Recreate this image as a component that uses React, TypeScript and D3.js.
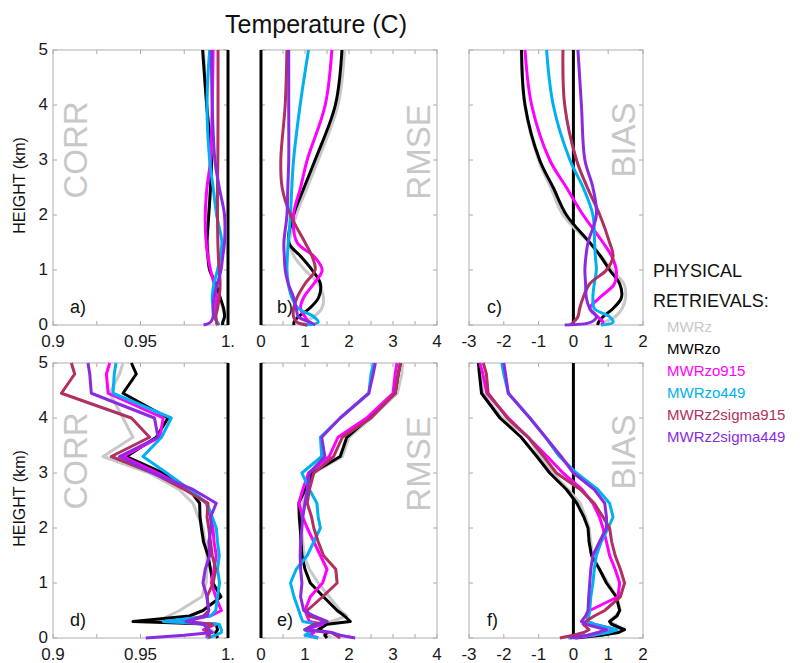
import * as d3 from "d3";

const seriesNames = ["MWRz", "MWRzo", "MWRzo915", "MWRzo449", "MWRz2sigma915", "MWRz2sigma449"];
const seriesColors = ["#c8c8c8", "#000000", "#ff00ff", "#00b0f0", "#b03060", "#8a2be2"];

// heights (km) for the smooth profiles (top row) and the raw profiles (bottom row)
const heightsSmooth = [5, 4, 3, 2.5, 2, 1.5, 1.25, 1, 0.75, 0.5, 0.3, 0.15, 0.05, 0];
const heightsRaw = [5, 4.8, 4.45, 4.0, 3.65, 3.3, 3.0, 2.7, 2.45, 2.2, 2.0, 1.75, 1.5, 1.25, 1.0, 0.75, 0.5, 0.4, 0.3, 0.25, 0.15, 0.1, 0.05, 0];

// series order follows seriesNames
const corrTop = [
  [0.986, 0.988, 0.9905, 0.990, 0.989, 0.9885, 0.989, 0.990, 0.993, 0.9955, 0.997, 0.998, 0.997, 0.997],
  [0.9855, 0.9878, 0.9905, 0.990, 0.989, 0.988, 0.9885, 0.9895, 0.993, 0.9955, 0.9975, 0.998, 0.997, 0.997],
  [0.9915, 0.991, 0.990, 0.988, 0.987, 0.9875, 0.9885, 0.990, 0.992, 0.9935, 0.993, 0.993, 0.9935, 0.994],
  [0.9895, 0.988, 0.9895, 0.9915, 0.9935, 0.9965, 0.9955, 0.994, 0.992, 0.991, 0.9915, 0.992, 0.994, 0.995],
  [0.9943, 0.9943, 0.9942, 0.994, 0.994, 0.9942, 0.9945, 0.995, 0.9955, 0.995, 0.994, 0.993, 0.9935, 0.994],
  [0.9905, 0.991, 0.9925, 0.995, 0.998, 0.998, 0.997, 0.996, 0.994, 0.992, 0.9915, 0.9915, 0.990, 0.986],
];
const rmseTop = [
  [1.9, 1.75, 1.3, 1.05, 0.8, 0.65, 0.75, 1.0, 1.3, 1.42, 1.38, 1.2, 1.0, 0.95],
  [1.84, 1.69, 1.23, 0.98, 0.74, 0.63, 0.9, 1.16, 1.35, 1.31, 1.1, 0.85, 0.75, 0.75],
  [1.61, 1.46, 1.05, 0.9, 0.74, 0.82, 1.2, 1.39, 1.2, 0.97, 0.9, 1.0, 1.08, 1.1],
  [1.08, 0.89, 0.74, 0.7, 0.67, 0.62, 0.6, 0.59, 0.62, 0.7, 0.85, 1.2, 1.3, 1.0],
  [0.59, 0.55, 0.45, 0.48, 0.67, 1.0, 1.16, 1.23, 1.0, 0.82, 0.74, 0.74, 0.82, 1.05],
  [0.63, 0.63, 0.63, 0.61, 0.59, 0.52, 0.53, 0.55, 0.62, 0.74, 0.8, 0.85, 1.12, 1.23],
];
const biasTop = [
  [-1.5, -1.4, -1.0, -0.65, -0.3, 0.45, 0.8, 1.1, 1.45, 1.5, 1.4, 1.2, 0.9, 0.8],
  [-1.49, -1.39, -0.97, -0.58, -0.2, 0.47, 0.78, 1.04, 1.33, 1.38, 1.14, 0.85, 0.72, 0.7],
  [-1.39, -1.2, -0.68, -0.2, 0.28, 0.85, 1.1, 1.23, 1.18, 0.76, 0.47, 0.7, 0.85, 0.8],
  [-0.77, -0.58, -0.1, 0.28, 0.56, 0.61, 0.63, 0.66, 0.6, 0.56, 0.6, 1.04, 1.14, 0.8],
  [-0.3, -0.25, 0.09, 0.4, 0.76, 1.04, 1.14, 0.95, 0.47, 0.28, 0.18, 0.13, 0.0, -0.1],
  [0.13, 0.23, 0.33, 0.56, 0.66, 0.42, 0.36, 0.33, 0.35, 0.37, 0.47, 0.66, 0.5, -0.25],
];

const corrBottom = [
  [0.940, 0.938, 0.9324, 0.940, 0.9457, 0.9286, 0.955, 0.972, 0.980, 0.983, 0.9857, 0.987, 0.988, 0.988, 0.9875, 0.985, 0.9724, 0.966, 0.959, 0.985, 0.990, 0.993, 0.992, 0.994],
  [0.9448, 0.9476, 0.940, 0.9657, 0.959, 0.942, 0.963, 0.978, 0.9838, 0.984, 0.9848, 0.986, 0.9886, 0.990, 0.9914, 0.996, 0.9857, 0.978, 0.9457, 0.9933, 0.994, 0.993, 0.9935, 0.994],
  [0.9324, 0.9305, 0.9315, 0.963, 0.961, 0.940, 0.960, 0.978, 0.9876, 0.990, 0.9914, 0.992, 0.9933, 0.992, 0.9905, 0.993, 0.9962, 0.990, 0.9648, 0.993, 0.986, 0.990, 0.988, 0.988],
  [0.936, 0.935, 0.9343, 0.9676, 0.962, 0.9514, 0.965, 0.978, 0.988, 0.991, 0.9933, 0.994, 0.995, 0.994, 0.9952, 0.994, 0.993, 0.990, 0.963, 0.995, 0.9962, 0.9962, 0.993, 0.988],
  [0.9105, 0.9124, 0.9048, 0.9448, 0.9552, 0.9333, 0.957, 0.975, 0.9886, 0.988, 0.989, 0.990, 0.991, 0.993, 0.9915, 0.988, 0.989, 0.986, 0.9762, 0.991, 0.987, 0.990, 0.989, 0.990],
  [0.920, 0.921, 0.9219, 0.958, 0.960, 0.938, 0.957, 0.980, 0.9933, 0.990, 0.9905, 0.989, 0.9895, 0.987, 0.9857, 0.988, 0.989, 0.988, 0.976, 0.986, 0.989, 0.991, 0.975, 0.953],
];
const rmseBottom = [
  [3.22, 3.2, 3.1, 2.5, 2.0, 1.85, 1.2, 1.05, 0.95, 0.9, 0.92, 0.95, 0.98, 1.1, 1.3, 1.55, 1.8, 1.95, 1.6, 1.4, 1.3, 1.4, 1.5, 1.6],
  [3.17, 3.12, 3.05, 2.45, 1.95, 1.8, 1.16, 1.0, 0.86, 0.87, 0.89, 0.91, 0.93, 1.0, 1.12, 1.42, 1.73, 1.9, 2.03, 1.5, 1.3, 1.5, 1.45, 1.5],
  [3.09, 3.05, 3.0, 2.4, 1.75, 1.55, 1.08, 0.95, 0.86, 0.95, 1.05, 1.2, 1.35, 1.5, 1.4, 1.12, 1.0, 1.05, 1.1, 1.4, 1.0, 1.2, 1.1, 1.3],
  [2.56, 2.5, 2.45, 1.8, 1.35, 1.38, 0.93, 1.1, 1.27, 1.3, 1.35, 1.2, 1.05, 0.8, 0.67, 0.75, 0.86, 0.9, 0.95, 1.3, 1.0, 1.1, 1.0, 1.3],
  [3.17, 3.12, 3.05, 2.5, 1.85, 1.65, 1.2, 1.1, 1.05, 1.15, 1.2, 1.3, 1.42, 1.7, 1.73, 1.4, 1.05, 1.1, 1.5, 1.2, 1.0, 1.6, 1.7, 1.8],
  [2.6, 2.55, 2.45, 1.8, 1.38, 1.45, 1.1, 1.05, 1.0, 0.95, 0.93, 0.9, 0.89, 0.9, 0.93, 0.9, 0.97, 1.2, 1.5, 1.3, 1.0, 1.6, 1.8, 2.14],
];
const biasBottom = [
  [-2.7, -2.65, -2.6, -2.05, -1.3, -0.95, -0.6, -0.15, 0.2, 0.35, 0.45, 0.5, 0.55, 0.75, 1.0, 1.25, 1.35, 1.2, 1.05, 1.2, 1.4, 1.2, 0.8, 0.1],
  [-2.73, -2.7, -2.64, -2.11, -1.5, -1.05, -0.68, -0.2, 0.1, 0.3, 0.42, 0.45, 0.52, 0.75, 0.95, 1.23, 1.33, 1.25, 1.04, 1.1, 1.47, 1.3, 0.8, 0.05],
  [-2.69, -2.6, -2.49, -1.87, -1.3, -0.75, -0.3, 0.25, 0.56, 0.75, 0.85, 0.95, 1.04, 1.2, 1.33, 1.28, 0.47, 0.42, 0.4, 0.6, 1.23, 0.9, 0.6, 0.0],
  [-2.06, -2.0, -1.87, -1.25, -0.8, -0.4, 0.09, 0.7, 1.04, 1.14, 1.0, 0.8, 0.66, 0.6, 0.56, 0.5, 0.47, 0.44, 0.41, 0.6, 1.25, 1.0, 0.5, -0.15],
  [-2.59, -2.5, -2.45, -1.9, -1.3, -0.85, -0.49, 0.2, 0.6, 0.85, 1.04, 1.1, 1.2, 1.35, 1.47, 1.35, 0.9, 0.6, 0.35, 0.28, 0.45, 0.3, 0.0, -0.39],
  [-2.0, -1.95, -1.87, -1.25, -0.8, -0.35, 0.0, 0.6, 0.9, 0.95, 0.95, 0.75, 0.56, 0.5, 0.47, 0.44, 0.42, 0.35, 0.23, 0.35, 0.95, 0.7, 0.4, -0.1],
];

const heightTicks = [0, 1, 2, 3, 4, 5];
const corrTicks = [0.9, 0.925, 0.95, 0.975, 1];
const corrTickLabels = ["0.9", "", "0.95", "", "1."];
const rmseTicks = [0, 0.5, 1, 1.5, 2, 2.5, 3, 3.5, 4];
const rmseTickLabels = ["0", "", "1", "", "2", "", "3", "", "4"];
const biasTicks = [-3, -2, -1, 0, 1, 2];
const biasTickLabels = ["-3", "-2", "-1", "0", "1", "2"];

const FONT = "Liberation Sans, Arial, sans-serif";

const cols = [
  { x0: 53, x1: 228, domain: [0.9, 1], ticks: corrTicks, labels: corrTickLabels, ref: 1, mark: "CORR", markX: 87 },
  { x0: 261, x1: 437, domain: [0, 4], ticks: rmseTicks, labels: rmseTickLabels, ref: 0, mark: "RMSE", markX: 430 },
  { x0: 469, x1: 643, domain: [-3, 2], ticks: biasTicks, labels: biasTickLabels, ref: 0, mark: "BIAS", markX: 635 },
];
const rows = [
  { y0: 50, y1: 325, heights: heightsSmooth, data: [corrTop, rmseTop, biasTop], letters: ["a)", "b)", "c)"], markY: [150, 152, 140], curve: d3.curveCatmullRom.alpha(0.5) },
  { y0: 363, y1: 638, heights: heightsRaw, data: [corrBottom, rmseBottom, biasBottom], letters: ["d)", "e)", "f)"], markY: [461, 464, 452], curve: d3.curveLinear },
];

const Panel = ({ col, row, ci }) => {
  const x = d3.scaleLinear().domain(col.domain).range([col.x0, col.x1]);
  const y = d3.scaleLinear().domain([0, 5]).range([row.y1, row.y0]);
  const series = row.data[ci];
  const line = d3
    .line()
    .x((d) => x(d[0]))
    .y((d) => y(d[1]))
    .curve(row.curve);

  return (
    <g>
      <rect x={col.x0} y={row.y0} width={col.x1 - col.x0} height={row.y1 - row.y0} fill="#fff" stroke="#bdbdbd" strokeWidth={1.2} />
      {col.ticks.map((t, i) => (
        <g key={"xt" + i}>
          <line x1={x(t)} x2={x(t)} y1={row.y0} y2={row.y0 + 4} stroke="#aaa" />
          <line x1={x(t)} x2={x(t)} y1={row.y1} y2={row.y1 - 4} stroke="#aaa" />
          {col.labels[i] && (
            <text x={x(t)} y={row.y1 + 22} textAnchor="middle" fontSize={17} fontFamily={FONT} fill="#1a1a1a">
              {col.labels[i]}
            </text>
          )}
        </g>
      ))}
      {heightTicks.map((t) => (
        <g key={"yt" + t}>
          <line x1={col.x0} x2={col.x0 + 4} y1={y(t)} y2={y(t)} stroke="#aaa" />
          <line x1={col.x1} x2={col.x1 - 4} y1={y(t)} y2={y(t)} stroke="#aaa" />
          {ci === 0 && (
            <text x={48} y={y(t) + 5} textAnchor="end" fontSize={17} fontFamily={FONT} fill="#1a1a1a">
              {t}
            </text>
          )}
        </g>
      ))}
      <text
        transform={`translate(${col.markX},${row.markY[ci]}) rotate(-90)`}
        textAnchor="middle"
        fontSize={33}
        fontFamily={FONT}
        fill="#c8c8c8"
      >
        {col.mark}
      </text>
      <line x1={x(col.ref)} x2={x(col.ref)} y1={row.y0} y2={row.y1} stroke="#000" strokeWidth={3} />
      {series.map((vals, si) => (
        <path
          key={si}
          d={line(vals.map((v, k) => [v, row.heights[k]]))}
          fill="none"
          stroke={seriesColors[si]}
          strokeWidth={3}
          strokeLinejoin="round"
        />
      ))}
      <text x={ci === 0 ? 70 : ci === 1 ? 277 : 487} y={row.y1 - 12} fontSize={18} fontFamily={FONT} fill="#111">
        {row.letters[ci]}
      </text>
    </g>
  );
};

export default function App() {
  return (
    <svg width={802} height={663} style={{ position: "absolute", left: 0, top: 0, background: "#fff" }}>
      <text x={316} y={33} textAnchor="middle" fontSize={25} fontFamily={FONT} fill="#111">
        Temperature (C)
      </text>
      {rows.map((row, ri) =>
        cols.map((col, ci) => <Panel key={ri + "-" + ci} col={col} row={row} ci={ci} />)
      )}
      {rows.map((row, ri) => (
        <text
          key={"hl" + ri}
          transform={`translate(25,${(row.y0 + row.y1) / 2 - 2}) rotate(-90)`}
          textAnchor="middle"
          fontSize={16}
          fontFamily={FONT}
          fill="#111"
        >
          HEIGHT (km)
        </text>
      ))}
      <text x={653} y={277} fontSize={18} fontFamily={FONT} fill="#111">PHYSICAL</text>
      <text x={653} y={307} fontSize={18} fontFamily={FONT} fill="#111">RETRIEVALS:</text>
      {seriesNames.map((name, i) => (
        <text key={name} x={667} y={332 + i * 22} fontSize={15} fontFamily={FONT} fill={seriesColors[i]}>
          {name}
        </text>
      ))}
    </svg>
  );
}
